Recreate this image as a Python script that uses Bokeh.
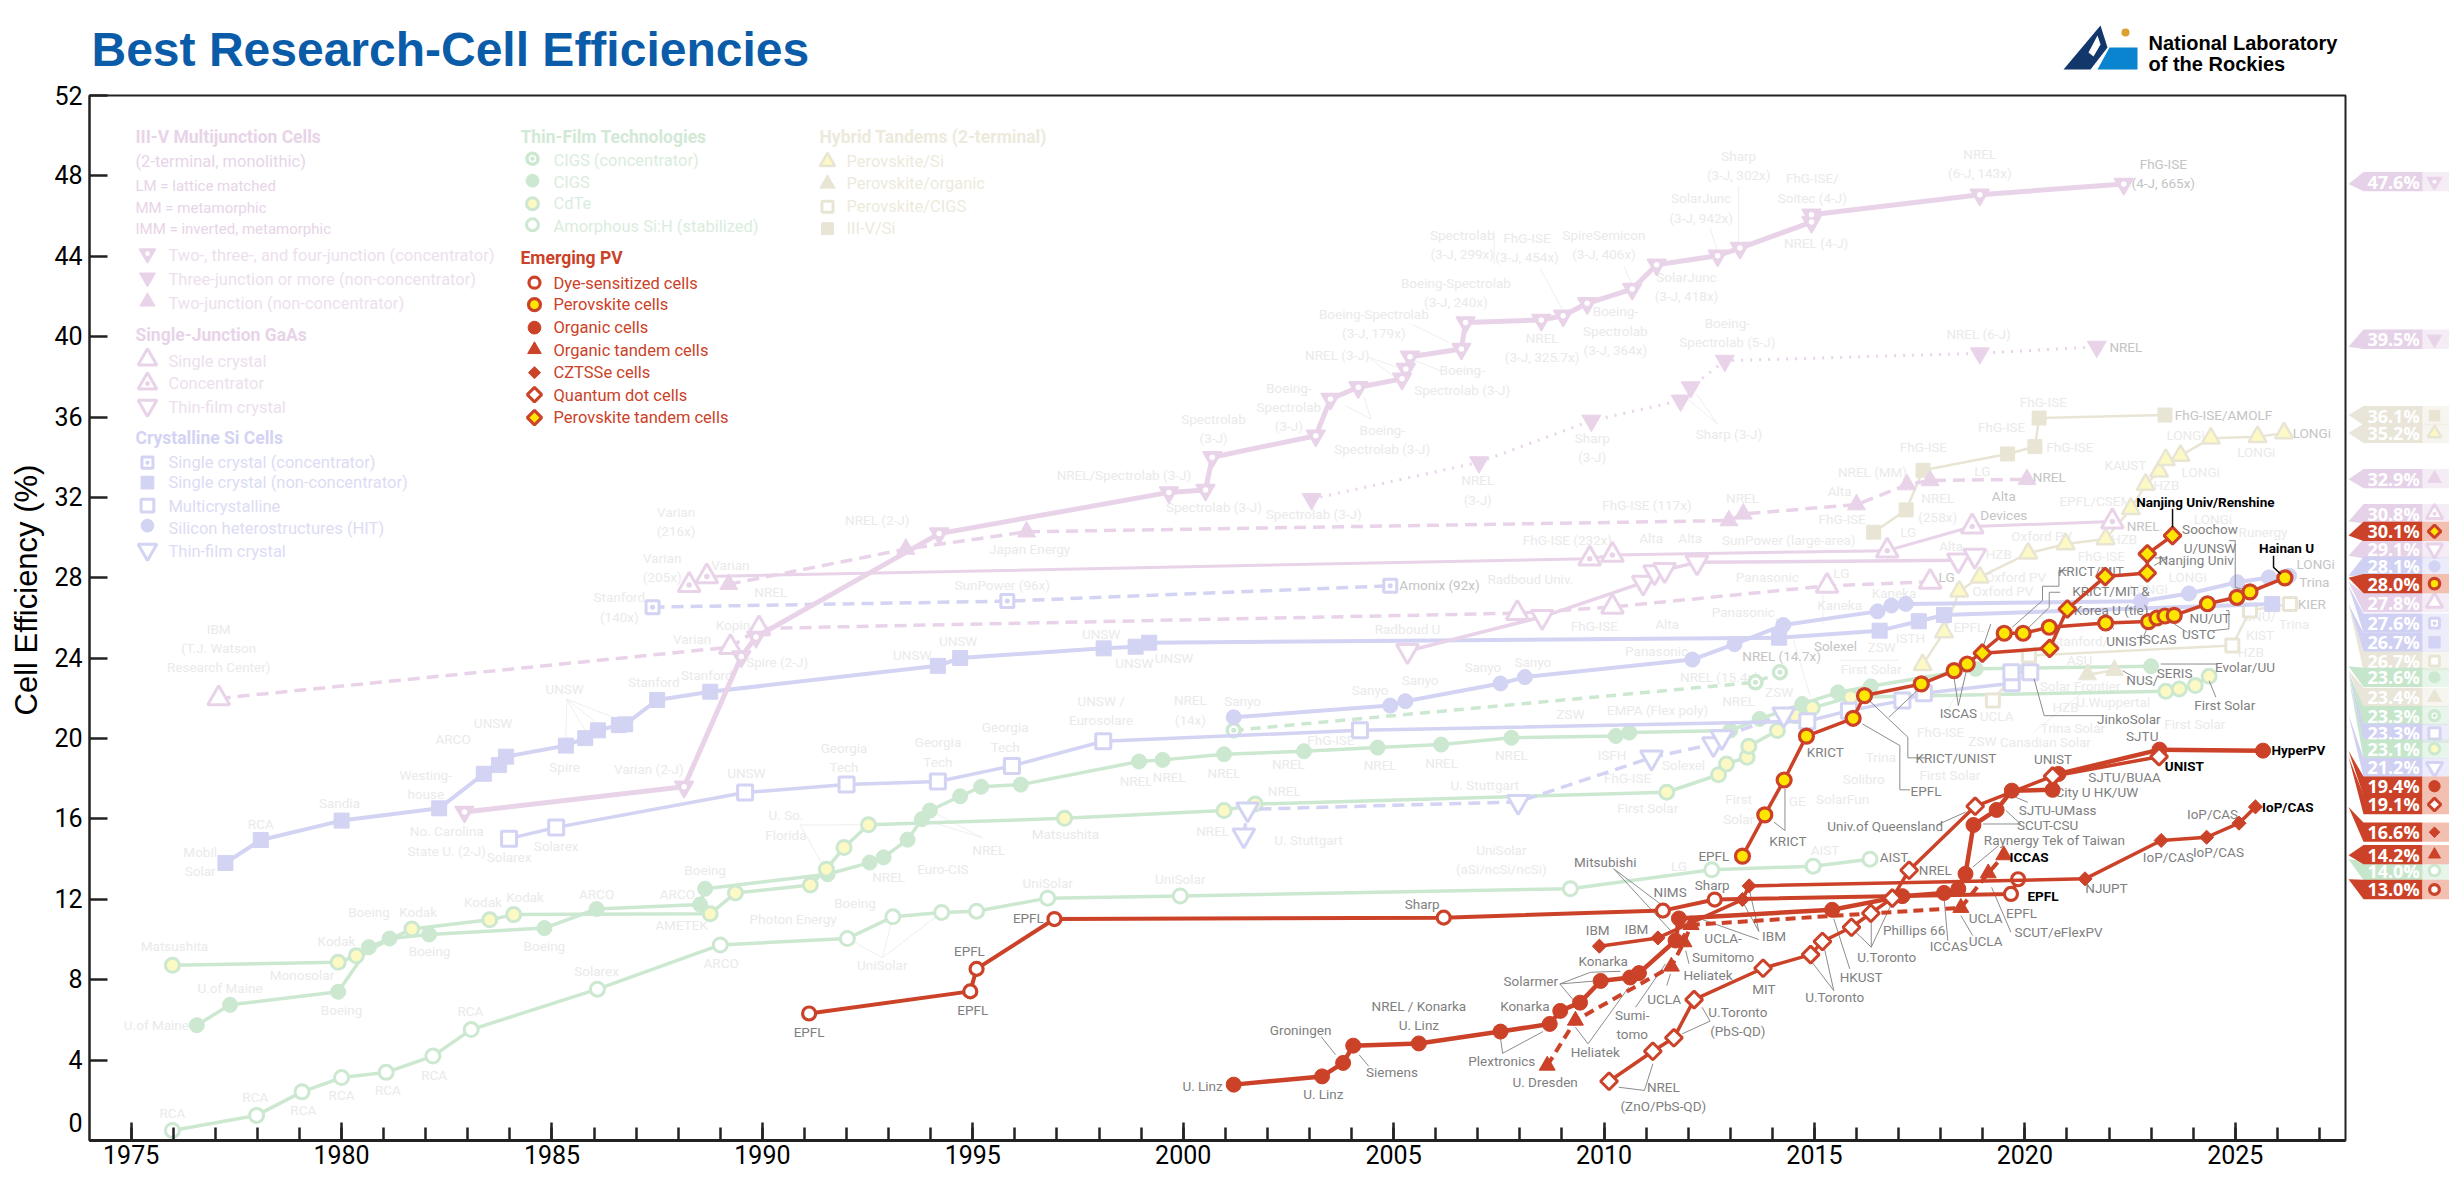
from bokeh.plotting import figure
from bokeh.models import Range1d, SingleIntervalTicker, FixedTicker, Title
from bokeh.layouts import column, row
from bokeh.core.properties import value
from bokeh.embed import file_html
from bokeh.resources import INLINE
import math

NARROW = "Roboto"
ARIAL = "Liberation Sans"

# ---------- series (year, efficiency %) ----------
mj_conc_x = [1982.92,1988.14,1989.5,1989.85,1994.2,1999.66,2000.53,2000.69,2003.15,2003.5,2004.16,2005.2,2005.29,2005.39,2006.61,2006.71,2008.51,2009.03,2009.6,2010.67,2011.25,2012.7,2013.23,2014.93,2014.93,2018.93,2022.35]
mj_conc_y = [16.35,17.6,24.08,25.05,30.2,32.25,32.37,34.0,35.07,36.9,37.48,37.9,38.39,39.0,39.39,40.71,40.83,41.04,41.66,42.37,43.58,44.03,44.41,45.7,46.07,47.06,47.6]
mj_non_x = [2003.05,2007.03,2009.7,2011.82,2012.06,2012.87,2018.93,2021.71]
mj_non_y = [31.92,33.75,35.82,36.82,37.48,38.8,39.17,39.5]
two_j_x = [1989.2,1993.41,1996.28,2012.97,2013.31,2016.0,2017.2,2017.75,2020.05]
two_j_y = [27.68,29.43,30.29,30.85,31.18,31.64,32.64,32.84,32.9]
gaas_sc_x = [1977.08,1989.24,1989.92,2007.94,2010.2,2015.3,2017.75]
gaas_sc_y = [22.0,24.55,25.48,26.24,26.55,27.6,27.8]
gaas_conc_x = [1988.26,1988.68,2009.66,2010.2,2016.73,2018.75,2022.08]
gaas_conc_y = [27.64,28.07,28.95,29.14,29.35,30.55,30.8]
gaas_tf_x = [2005.33,2008.53,2010.93,2011.2,2011.44,2012.21,2018.42,2018.81]
gaas_tf_y = [24.36,26.06,27.76,28.28,28.39,28.77,28.87,29.1]
si_sc_x = [1977.24,1978.08,1980.0,1982.32,1983.38,1983.74,1983.91,1985.33,1985.79,1986.09,1986.59,1986.74,1987.5,1988.76,1994.17,1994.7,1998.11,1998.87,1999.19,2014.16,2016.55,2017.48,2018.08,2025.88]
si_sc_y = [13.81,14.95,15.92,16.53,18.25,18.68,19.1,19.65,20.02,20.41,20.67,20.71,21.92,22.33,23.62,24.01,24.49,24.57,24.77,25.02,25.37,25.84,26.15,26.7]
si_conc_x = [1987.39,1995.82,2004.92]
si_conc_y = [26.54,26.84,27.6]
si_mc_x = [1983.98,1985.1,1989.59,1992.0,1994.17,1995.93,1998.1,2004.2,2014.83,2015.82,2017.09,2017.6,2019.69,2019.68,2020.13]
si_mc_y = [15.02,15.58,17.32,17.71,17.86,18.64,19.87,20.41,20.86,21.39,21.89,22.25,22.75,23.3,23.3]
si_hit_x = [2001.2,2004.92,2005.28,2007.54,2008.12,2012.1,2013.1,2014.26,2016.5,2016.83,2017.17,2022.76,2023.9,2025.05,2025.8,2026.28]
si_hit_y = [21.06,21.64,21.86,22.74,23.06,23.93,24.7,25.65,26.33,26.62,26.7,26.83,27.22,27.78,28.02,28.1]
si_tf_x = [2001.44,2001.53,2007.96,2011.13,2012.6,2012.8,2014.27]
si_tf_y = [15.19,16.48,16.85,19.06,19.73,20.07,21.2]
cigs_conc_x = [2001.2,2013.6,2014.18]
cigs_conc_y = [20.41,22.8,23.3]
cigs_x = [1976.56,1977.35,1979.92,1980.65,1981.14,1982.08,1984.82,1986.06,1988.52,1988.64,1991.55,1992.55,1992.88,1993.45,1993.79,1993.98,1994.7,1995.2,1996.14,1998.95,1999.51,2000.97,2002.87,2004.62,2006.13,2007.8,2010.28,2010.6,2013.0,2013.7,2014.71,2015.56,2016.34,2018.83,2023.0]
cigs_y = [5.74,6.75,7.4,9.62,10.05,10.25,10.57,11.52,11.74,12.53,13.25,13.83,14.09,14.97,15.99,16.42,17.13,17.6,17.71,18.86,18.94,19.22,19.37,19.55,19.7,20.04,20.13,20.3,20.4,20.98,21.72,22.3,22.6,23.47,23.6]
cdte_x = [1975.98,1979.92,1980.35,1981.67,1983.52,1984.09,1988.76,1989.36,1991.14,1991.52,1991.94,1992.52,1997.18,2000.97,2001.71,2011.49,2012.72,2012.91,2013.4,2013.44,2014.12,2014.55,2014.95,2015.86,2023.35,2023.67,2024.05,2024.38]
cdte_y = [8.72,8.87,9.19,10.53,10.98,11.24,11.28,12.32,12.71,13.5,14.58,15.71,16.03,16.42,16.74,17.33,18.2,18.74,19.07,19.62,20.4,21.14,21.53,22.06,22.35,22.47,22.64,23.1]
asi_x = [1975.98,1977.98,1979.06,1980.0,1981.06,1982.17,1983.08,1986.08,1989.0,1992.02,1993.1,1994.26,1995.09,1996.78,1999.93,2009.2,2012.56,2014.97,2016.32]
asi_y = [0.5,1.25,2.42,3.13,3.39,4.2,5.52,7.53,9.73,10.05,11.13,11.35,11.41,12.06,12.17,12.53,13.47,13.65,14.0]
pk_si_x = [2017.57,2018.08,2018.44,2018.93,2020.08,2020.97,2021.92,2022.52,2022.87,2023.19,2023.35,2023.7,2024.42,2025.53,2026.16]
pk_si_y = [23.67,25.3,27.33,28.03,29.22,29.68,29.93,31.43,32.64,33.3,33.87,34.08,34.94,35.02,35.2]
pk_org_x = [2021.49,2022.13]
pk_org_y = [23.18,23.4]
pk_cigs_x = [2019.24,2020.1,2024.93,2025.35,2026.3]
pk_cigs_y = [21.89,24.13,24.63,26.37,26.7]
pk_iii_x = [2016.41,2017.18,2017.58,2019.59,2020.24,2020.34,2023.33]
pk_iii_y = [30.27,31.38,33.35,34.16,34.53,35.95,36.1]

dye_x = [1991.11,1994.94,1995.09,1996.94,2006.19,2011.4,2012.63,2019.67,2019.84]
dye_y = [6.32,7.42,8.54,11.02,11.09,11.44,11.99,12.27,13.0]
pk_x = [2013.29,2013.82,2014.28,2014.81,2015.92,2016.19,2017.54,2018.32,2018.63,2019.51,2019.96,2020.58,2021.92,2022.94,2023.14,2023.33,2023.55,2024.34,2025.04,2025.35,2026.18]
pk_y = [14.15,16.2,17.94,20.12,21.01,22.14,22.72,23.38,23.71,25.24,25.24,25.54,25.75,25.82,26.0,26.1,26.13,26.71,27.03,27.3,28.0]
pvt_x = [2018.99,2020.59,2021.01,2021.91,2022.91,2022.91,2023.51]
pvt_y = [24.25,24.49,26.45,28.06,28.24,29.19,30.1]
org_x = [2001.2,2003.3,2003.8,2004.04,2005.6,2007.54,2008.71,2008.96,2009.43,2009.92,2010.62,2010.83,2011.7,2011.78,2015.42,2017.09,2018.08,2018.42,2018.59,2018.78,2019.33,2019.69,2020.66,2020.8,2023.2,2025.66]
org_y = [2.78,3.19,3.86,4.72,4.83,5.42,5.8,6.45,6.86,7.94,8.11,8.33,9.95,11.05,11.48,12.16,12.32,12.52,13.27,15.7,16.45,17.41,17.45,18.24,19.45,19.4]
org_t_x = [2008.65,2009.32,2011.6,2011.9,2012.07,2018.48,2019.13,2019.5]
org_t_y = [3.73,5.97,8.66,9.87,10.73,11.58,13.3,14.2]
czts_x = [2009.89,2011.28,2013.29,2013.45,2021.43,2023.24,2024.32,2025.09,2025.48]
czts_y = [9.67,10.08,11.99,12.67,13.02,14.93,15.09,15.79,16.6]
qd_x = [2010.12,2011.16,2011.66,2012.14,2013.78,2014.91,2015.19,2015.88,2016.34,2016.85,2017.25,2018.82,2020.66,2023.19]
qd_y = [2.95,4.44,5.11,7.01,8.57,9.25,9.9,10.61,11.31,12.06,13.45,16.63,18.13,19.1]

# ---------- colours ----------
PINK, BLUE, GREEN, BEIGE, RED = "#E9D3E9", "#D3D3F3", "#CCE8D0", "#E9E5D5", "#CB4228"
YEL_P, YEL_R = "#FCF9C4", "#FFE600"

# marker styles: marker, size, fill, line, line width, centre dot, angle
STY = {
 "mj_conc":  ("inverted_triangle", 19, PINK, PINK, 1.5, True, 0),
 "mj_non":   ("inverted_triangle", 19, PINK, PINK, 1, False, 0),
 "two_j":    ("triangle", 18, PINK, PINK, 1, False, 0),
 "gaas_sc":  ("triangle", 22, "white", PINK, 3, False, 0),
 "gaas_conc":("triangle", 22, "white", PINK, 3, True, 0),
 "gaas_tf":  ("inverted_triangle", 22, "white", PINK, 3, False, 0),
 "si_conc":  ("square", 13, "white", BLUE, 3, True, 0),
 "si_sc":    ("square", 15, BLUE, BLUE, 1, False, 0),
 "si_mc":    ("square", 15, "white", BLUE, 3, False, 0),
 "si_hit":   ("circle", 15, BLUE, BLUE, 1, False, 0),
 "si_tf":    ("inverted_triangle", 22, "white", BLUE, 3, False, 0),
 "cigs_conc":("circle", 13, "white", GREEN, 3.5, True, 0),
 "cigs":     ("circle", 15, GREEN, GREEN, 1, False, 0),
 "cdte":     ("circle", 14, YEL_P, GREEN, 3, False, 0),
 "asi":      ("circle", 14, "white", GREEN, 3, False, 0),
 "pk_si":    ("triangle", 18, YEL_P, BEIGE, 2.5, False, 0),
 "pk_org":   ("triangle", 18, BEIGE, BEIGE, 1, False, 0),
 "pk_cigs":  ("square", 13, "white", BEIGE, 3, False, 0),
 "pk_iii":   ("square", 14, BEIGE, BEIGE, 1, False, 0),
 "dye":      ("circle", 13, "white", RED, 3.2, False, 0),
 "pk":       ("circle", 14, YEL_R, RED, 3.2, False, 0),
 "org":      ("circle", 15, RED, RED, 1, False, 0),
 "org_t":    ("triangle", 16, RED, RED, 1, False, 0),
 "czts":     ("square", 10, RED, RED, 1, False, math.pi/4),
 "qd":       ("square", 12, "white", RED, 3, False, math.pi/4),
 "pvt":      ("square", 12, YEL_R, RED, 3, False, math.pi/4),
}

# series drawing order: key, xs, ys, colour, width, dash
SERIES = [
 ("asi", asi_x, asi_y, GREEN, 3.5, "solid"),
 ("cigs_conc", cigs_conc_x, cigs_conc_y, GREEN, 3.5, "10 7"),
 ("cigs", cigs_x, cigs_y, GREEN, 3.5, "solid"),
 ("cdte", cdte_x, cdte_y, GREEN, 3.5, "solid"),
 ("pk_si", pk_si_x, pk_si_y, BEIGE, 2.5, "solid"),
 ("pk_org", pk_org_x, pk_org_y, BEIGE, 2.5, "solid"),
 ("pk_cigs", pk_cigs_x, pk_cigs_y, BEIGE, 2.5, "solid"),
 ("pk_iii", pk_iii_x, pk_iii_y, BEIGE, 2.5, "solid"),
 ("si_conc", si_conc_x, si_conc_y, BLUE, 3.5, "12 7"),
 ("si_sc", si_sc_x, si_sc_y, BLUE, 4, "solid"),
 ("si_mc", si_mc_x, si_mc_y, BLUE, 3.5, "solid"),
 ("si_hit", si_hit_x, si_hit_y, BLUE, 4, "solid"),
 ("si_tf", si_tf_x, si_tf_y, BLUE, 3.5, "12 7"),
 ("gaas_sc", gaas_sc_x, gaas_sc_y, PINK, 3.5, "12 7"),
 ("gaas_conc", gaas_conc_x, gaas_conc_y, PINK, 3, "solid"),
 ("gaas_tf", gaas_tf_x, gaas_tf_y, PINK, 3.5, "solid"),
 ("two_j", two_j_x, two_j_y, PINK, 3.5, "12 7"),
 ("mj_non", mj_non_x, mj_non_y, PINK, 3, "2 7"),
 ("mj_conc", mj_conc_x, mj_conc_y, PINK, 5, "solid"),
 ("dye", dye_x, dye_y, RED, 4, "solid"),
 ("org_t", org_t_x, org_t_y, RED, 4, "10 6"),
 ("org", org_x, org_y, RED, 4.5, "solid"),
 ("czts", czts_x, czts_y, RED, 3.5, "solid"),
 ("qd", qd_x, qd_y, RED, 3.5, "solid"),
 ("pk", pk_x, pk_y, RED, 3.5, "solid"),
 ("pvt", pvt_x, pvt_y, RED, 3.5, "solid"),
]

# ---------- annotation texts (text, year, eff) ----------
labels_pale = [
 ("IBM\n(T.J. Watson\nResearch Center)",1977.08,24.5),("Varian\n(216x)",1987.95,30.8),("Varian\n(205x)",1987.62,28.5),
 ("Varian",1989.24,28.65),("Stanford\n(140x)",1986.6,26.55),("NREL",1990.2,27.3),("Kopin",1989.3,25.65),("Varian",1988.33,24.94),
 ("Spire (2-J)",1990.35,23.82),("NREL (2-J)",1992.73,30.87),("UNSW",1993.56,24.16),("UNSW",1994.65,24.88),("Stanford",1987.42,22.83),
 ("Stanford",1988.68,23.15),("UNSW",1985.3,22.46),("UNSW",1983.6,20.8),("ARCO",1982.65,19.98),("Spire",1985.3,18.58),("Varian (2-J)",1987.3,18.47),
 ("Westing-\nhouse",1982.0,17.7),("Sandia",1979.95,16.8),("RCA",1978.08,15.77),("Mobil\nSolar",1976.64,13.9),("No. Carolina\nState U. (2-J)",1982.5,14.9),
 ("Solarex",1983.98,14.1),("Solarex",1985.1,14.65),("UNSW",1989.62,18.3),("Georgia\nTech",1991.94,19.07),("Georgia\nTech",1994.17,19.33),
 ("U. So.\nFlorida",1990.56,15.7),("Boeing",1988.64,13.44),("ARCO",1987.98,12.25),("AMETEK",1988.08,10.7),("ARCO",1986.06,12.25),("Kodak",1983.36,11.89),
 ("Kodak",1984.36,12.1),("Kodak",1981.82,11.39),("Boeing",1980.65,11.35),("Kodak",1979.88,9.95),("Boeing",1982.09,9.41),("Boeing",1984.82,9.69),
 ("Matsushita",1976.03,9.67),("Monosolar",1979.06,8.26),("U.of Maine",1977.35,7.57),("U.of Maine",1975.6,5.74),("Boeing",1980.0,6.49),("Solarex",1986.06,8.44),
 ("ARCO",1989.02,8.82),("RCA",1983.06,6.43),("RCA",1982.2,3.26),("RCA",1981.1,2.5),("RCA",1980.0,2.24),("RCA",1979.09,1.53),("RCA",1977.95,2.14),("RCA",1975.98,1.38),
 ("Photon Energy",1990.73,11.02),("Boeing",1992.2,11.82),("NREL",1993.0,13.12),("Euro-CIS",1994.29,13.5),("NREL",1995.38,14.48),("UniSolar",1992.85,8.72),
 ("Spectrolab (3-J)",2000.73,31.5),("Spectrolab (3-J)",2003.1,31.2),("Japan Energy",1996.35,29.43),("SunPower (96x)",1995.7,27.63),
 ("UNSW",1998.05,25.2),("UNSW",1998.84,23.75),("UNSW",1999.78,24.03),("Radboud U",2005.33,25.44),("Radboud Univ.",2008.25,27.96),
 ("FhG-ISE (232x)",2009.13,29.9),("FhG-ISE (117x)",2011.02,31.63),("Alta",2011.12,30.0),("Alta",2012.05,30.0),("FhG-ISE",2009.77,25.59),("Alta",2011.5,25.7),
 ("Sanyo",2001.41,21.88),("Sanyo",2004.44,22.42),("Sanyo",2005.63,22.93),("Sanyo",2007.12,23.54),("Sanyo",2008.31,23.82),("Panasonic",2011.25,24.36),
 ("NREL\n(14x)",2000.17,21.42),("UNSW /\nEurosolare",1998.05,21.38),("Georgia\nTech",1995.77,20.08),("FhG-ISE",2003.51,19.91),("NREL",2002.5,18.75),("NREL",1998.88,17.89),
 ("NREL",1999.67,18.08),("NREL",2000.97,18.3),("NREL",2004.68,18.68),("NREL",2006.14,18.79),("NREL",2007.8,19.18),("NREL",2002.4,17.39),("NREL",2000.7,15.38),
 ("U. Stuttgart",2002.98,14.97),("U. Stuttgart",2007.17,17.71),("Matsushita",1997.2,15.23),("ZSW",2009.2,21.23),("EMPA (Flex poly)",2011.27,21.42),("ISFH",2010.19,19.18),
 ("FhG-ISE",2010.56,18.04),("Solexel",2011.89,18.68),("First Solar",2011.04,16.53),("UniSolar",1996.78,12.82),("UniSolar",1999.93,13.01),("UniSolar\n(aSi/ncSi/ncSi)",2007.56,13.98),
 ("LG",2011.78,13.68),("AIST",2015.25,14.48),
 ("NREL (MM)",2016.38,33.28),("LG",2018.99,33.33),("NREL",2013.29,31.96),("Alta",2015.6,32.34),("NREL\n(258x)",2017.93,31.5),("FhG-ISE",2015.66,30.93),
 ("SunPower (large-area)",2014.39,29.88),("LG",2017.23,30.27),("Alta",2018.25,29.6),("HZB",2019.38,29.19),("Oxford PV",2020.4,30.1),("Oxford PV",2019.78,28.06),("Oxford PV",2019.48,27.36),
 ("EPFL/CSEM",2021.69,31.84),("KAUST",2022.39,33.63),("HZB",2023.36,32.6),("HZB",2022.36,29.93),("FhG-ISE",2021.82,29.1),("LONGi",2024.47,30.93),("Runergy",2025.66,30.26),
 ("LONGi",2023.87,28.03),("LONGi",2022.94,27.45),("LG",2015.64,28.22),("Kaneka",2015.6,26.67),("Kaneka",2016.89,27.23),("Panasonic",2013.88,28.06),("Panasonic",2013.31,26.29),
 ("ZSW",2016.6,24.54),("ZSW",2014.16,22.3),("NREL (15.4x)",2012.74,23.05),("NREL",2013.2,21.89),("ISTH",2017.28,25.0),("EPFL",2018.67,25.54),("First Solar",2016.35,23.47),
 ("Stanford/\nASU",2021.3,24.4),("Solar Frontier",2021.31,22.64),("HZB",2020.97,21.59),("U.Wuppertal",2022.1,21.8),("Trina Solar",2021.14,20.51),("Canadian Solar",2020.49,19.82),
 ("UCLA",2019.33,21.14),("FhG-ISE",2018.0,20.35),("ZSW",2018.99,19.87),("Trina",2016.58,19.07),("First Solar",2018.22,18.21),("Solibro",2016.17,18.0),("SolarFun",2015.67,17.0),
 ("GE",2014.59,16.88),("First\nSolar",2013.2,16.5),("First Solar",2024.04,20.73),("SNU/\nKIST",2025.59,25.62),("HZB",2025.37,24.3),("Trina",2026.4,25.7),
 ("FhG-ISE",2020.44,36.73),("FhG-ISE",2019.45,35.49),("FhG-ISE",2017.59,34.53),("FhG-ISE",2021.07,34.49),("LONGi",2023.82,35.12),("LONGi",2025.5,34.25),("LONGi",2024.18,33.25),
 ("NREL (6-J)",2018.9,40.15),("NREL (3-J)",2003.66,39.1),("Boeing-Spectrolab\n(3-J, 179x)",2004.53,40.66),("Boeing-Spectrolab\n(3-J, 240x)",2006.48,42.2),("Spectrolab\n(3-J, 299x)",2006.63,44.58),
 ("Boeing-\nSpectrolab (3-J)",2006.63,37.84),("Boeing-\nSpectrolab\n(3-J)",2002.51,36.5),("Boeing-\nSpectrolab (3-J)",2004.73,34.9),("Spectrolab\n(3-J)",2000.72,35.44),("NREL/Spectrolab (3-J)",1998.59,33.13),
 ("NREL\n(3-J)",2007.0,32.37),("FhG-ISE\n(3-J, 454x)",2008.17,44.44),("SpireSemicon\n(3-J, 406x)",2010.0,44.58),("SolarJunc\n(3-J, 942x)",2012.31,46.4),("Sharp\n(3-J, 302x)",2013.2,48.5),
 ("FhG-ISE/\nSoitec (4-J)",2014.95,47.4),("NREL (4-J)",2015.04,44.66),("NREL\n(6-J, 143x)",2018.93,48.6),("SolarJunc\n(3-J, 418x)",2011.96,42.5),
 ("NREL\n(3-J, 325.7x)",2008.53,39.47),("Boeing-\nSpectrolab\n(3-J, 364x)",2010.27,40.3),("Boeing-\nSpectrolab (5-J)",2012.93,40.2),("Sharp (3-J)",2012.97,35.16),("Sharp\n(3-J)",2009.72,34.5),
]
labels_mid = [
 ("FhG-ISE\n(4-J, 665x)",2023.29,48.1),("Amonix (92x)",2006.09,27.64),("NREL",2022.4,39.5),("FhG-ISE/AMOLF",2024.72,36.12),("LONGi",2026.82,35.19),("NREL",2020.58,33.0),
 ("Alta\nDevices",2019.5,31.6),("NREL",2022.81,30.6),("LG",2018.14,28.06),("Solexel",2015.5,24.63),("NREL (14.7x)",2014.22,24.13),("LONGi",2026.91,28.7),("Trina",2026.88,27.81),("KIER",2026.82,26.7),
]
labels_gray = [
 ("EPFL",1991.11,5.42),("EPFL",1994.92,9.45),("EPFL",1995.0,6.49),("EPFL",1996.32,11.07),("Sharp",2005.68,11.78),("Mitsubishi",2010.03,13.87),("NIMS",2011.57,12.36),
 ("IBM",2009.85,10.49),("IBM",2010.77,10.53),("Konarka",2009.98,8.91),("Solarmer",2008.26,7.96),("Konarka",2008.12,6.67),("NREL / Konarka\nU. Linz",2005.6,6.21),("Groningen",2002.79,5.52),
 ("Siemens",2004.96,3.43),("U. Linz",2000.46,2.72),("U. Linz",2003.33,2.29),("Plextronics",2007.57,3.97),("Heliatek",2009.79,4.38),("Sumi-\ntomo",2010.67,5.78),("UCLA",2011.43,7.03),
 ("U. Dresden",2008.6,2.89),("NREL\n(ZnO/PbS-QD)",2011.41,2.18),("UCLA-\nSumitomo",2012.83,9.59),("Heliatek",2012.47,8.26),("IBM",2014.04,10.2),("U.Toronto\n(PbS-QD)",2013.18,5.94),("MIT",2013.8,7.55),
 ("U.Toronto",2015.48,7.13),("HKUST",2016.11,8.13),("U.Toronto",2016.72,9.12),("Phillips 66",2017.37,10.48),("NREL",2017.87,13.48),("AIST",2016.89,14.1),("Sharp",2012.57,12.69),("EPFL",2012.61,14.18),
 ("ICCAS",2018.19,9.7),("UCLA",2019.07,9.92),("UCLA",2019.07,11.06),("EPFL",2019.92,11.31),("SCUT/eFlexPV",2020.8,10.36),("NJUPT",2021.94,12.55),("IoP/CAS",2023.41,14.1),("IoP/CAS",2024.6,14.34),
 ("IoP/CAS",2024.46,16.25),("Raynergy Tek of Taiwan",2020.71,14.93),("SCUT-CSU",2020.54,15.7),("SJTU-UMass",2020.78,16.47),("City U HK/UW",2021.71,17.36),("SJTU/BUAA",2022.37,18.08),("UNIST",2020.67,18.99),
 ("SJTU",2022.79,20.12),("Univ.of Queensland",2016.68,15.67),("KRICT",2014.37,14.89),("KRICT",2015.26,19.35),("EPFL",2017.65,17.38),("KRICT/UNIST",2018.36,19.04),("ISCAS",2018.42,21.26),
 ("NU/UT",2024.4,25.99),("UNIST",2022.39,24.84),("ISCAS",2023.16,24.96),("USTC",2024.13,25.2),("KRICT/MIT",2021.57,28.32),("KRICT/MIT &\nKorea U (tie)",2022.05,26.87),("Nanjing Univ",2024.07,28.9),
 ("Soochow\nU/UNSW",2024.4,29.97),("JinkoSolar",2022.47,20.98),("First Solar",2024.75,21.69),("Evolar/UU",2025.23,23.55),("NUS/",2022.79,22.89),("SERIS",2023.56,23.25),
]
labels_black = [
 ("EPFL",2020.43,12.19),("IoP/CAS",2026.25,16.58),("ICCAS",2020.1,14.1),("UNIST",2023.79,18.66),("HyperPV",2026.5,19.44),("Nanjing Univ/Renshine",2024.29,31.76),("Hainan U",2026.22,29.47),
]

# leader lines, as (year, eff) paths
leaders_gray = [
 [(2010.23,13.52),(2011.34,11.77)],[(2010.23,13.52),(2011.58,10.45)],[(2013.68,10.4),(2013.44,12.6)],[(2013.68,10.4),(2013.29,11.9)],[(2013.68,10.0),(2012.22,11.08)],
 [(2008.95,7.79),(2009.68,8.37),(2010.39,8.42)],[(2008.95,7.79),(2009.92,7.96)],[(2008.95,7.79),(2009.28,6.97)],[(2009.62,4.81),(2010.59,7.63)],[(2009.62,4.81),(2009.32,5.64)],
 [(2010.75,6.63),(2011.46,8.79)],[(2011.49,7.71),(2011.58,8.29)],[(2012.33,6.63),(2012.52,5.94),(2011.86,5.31)],[(2014.91,8.96),(2015.46,7.46),(2015.23,9.62)],[(2015.84,8.54),(2015.46,11.03)],
 [(2015.9,10.53),(2016.35,9.62),(2016.35,11.11)],[(2016.35,9.62),(2016.85,11.86)],[(2010.35,2.65),(2010.96,2.49),(2011.16,3.81)],[(2012.02,8.79),(2011.94,9.45)],
 [(2007.54,5.09),(2007.59,4.34),(2008.55,5.42)],[(2003.28,5.16),(2003.62,4.27)],[(2004.41,3.69),(2004.18,4.27)],[(2014.3,17.5),(2014.3,15.42),(2014.04,15.84)],
 [(2017.64,19.04),(2017.22,19.04),(2017.22,20.07),(2016.26,21.97)],[(2017.27,17.45),(2017.03,17.45),(2017.03,19.65),(2016.14,20.73)],[(2016.77,21.06),(2017.48,22.47)],
 [(2017.91,15.7),(2018.59,16.34)],[(2019.01,15.75),(2019.9,15.75),(2019.55,16.42)],[(2019.78,17.08),(2020.07,16.83)],[(2018.31,23.13),(2018.42,21.64),(2018.62,23.47)],
 [(2019.38,14.68),(2018.76,13.6)],[(2019.67,10.36),(2019.21,12.6)],[(2018.76,10.2),(2018.48,11.19)],[(2018.17,9.95),(2018.08,12.1)],
 [(2021.0,28.36),(2020.81,28.36),(2020.81,27.58),(2020.42,27.58),(2020.42,26.87),(2019.7,25.54)],[(2020.84,27.28),(2020.58,27.28),(2020.58,26.53),(2020.1,25.54)],[(2019.19,25.7),(2018.99,24.46)],
 [(2024.78,26.37),(2024.85,26.37),(2024.85,25.46),(2024.46,25.37)],[(2023.86,25.29),(2023.55,25.7)],[(2024.85,29.85),(2025.0,29.85),(2025.0,27.53),(2025.35,27.33)],
 [(2023.09,28.99),(2023.39,28.99),(2023.07,28.61)],[(2022.12,25.46),(2022.0,25.7)],[(2022.83,25.12),(2022.95,25.7)],[(2024.58,23.71),(2023.23,23.71)],[(2024.54,22.06),(2024.38,22.88)],
 [(2021.88,21.14),(2020.46,21.14),(2020.22,22.97)],[(2022.6,23.05),(2022.32,23.38)],
]
leaders_black = [
 [(2023.51,31.43),(2023.51,30.51)],[(2025.91,29.1),(2025.91,28.52),(2026.08,28.19)],
]
leaders_pale = [
 [(2013.2,47.5),(2013.2,44.6)],[(2005.45,40.6),(2006.32,39.7)],[(2004.42,38.97),(2005.09,38.47)],[(2004.42,38.97),(2004.97,38.06)],[(2005.52,38.8),(2006.12,38.3)],
 [(2003.85,36.57),(2004.46,35.9),(2004.3,37.0)],[(2007.39,45.27),(2007.39,43.6)],[(2008.49,43.37),(2009.0,41.38)],[(2010.47,43.5),(2010.67,42.6)],[(2012.52,45.4),(2012.69,44.3)],
 [(2012.2,37.15),(2012.69,35.66),(2011.94,36.98)],[(1985.33,19.98),(1985.35,21.96),(1985.79,20.41)],[(1986.09,20.73),(1985.35,21.96),(1986.59,20.95)],[(1993.98,16.42),(1995.23,15.06),(1993.79,15.99)],
 [(1990.9,15.7),(1991.55,13.25)],[(1990.9,15.7),(1992.5,15.71)],[(1992.85,9.1),(1993.1,11.13)],[(1992.85,9.1),(1994.26,11.35)],[(1992.85,9.1),(1992.02,10.05)],
 [(2014.1,26.0),(2014.1,25.6)],[(2015.2,27.9),(2015.2,25.7)],[(2014.5,24.9),(2014.9,22.1)],[(2015.6,23.9),(2017.0,23.9)],[(2018.05,21.0),(2018.6,23.0)],[(2020.2,20.3),(2021.5,22.5)],
]

# ---------- flags on the right ----------
flag_vals = [47.6,39.5,36.1,35.2,32.9,30.8,30.1,29.1,28.1,28.0,27.8,27.6,26.7,26.7,23.6,23.4,23.3,23.3,23.1,21.2,19.4,19.1,16.6,14.2,14.0,13.0]
flag_keys = ["mj_conc","mj_non","pk_iii","pk_si","two_j","gaas_conc","pvt","gaas_tf","si_hit","pk","gaas_sc","si_conc","si_sc","pk_cigs","cigs","pk_org","cigs_conc","si_mc","cdte","si_tf","org","qd","czts","org_t","asi","dye"]
flag_slot = [47.71,39.87,36.07,35.19,32.94,31.19,30.31,29.45,28.57,27.71,26.77,25.74,24.79,23.85,23.05,22.05,21.14,20.26,19.49,18.57,17.63,16.72,15.34,14.23,13.43,12.49]
flag_face = {"mj_conc":"#E6D2E8","mj_non":"#E6D2E8","two_j":"#E6D2E8","gaas_conc":"#E6D2E8","gaas_tf":"#E6D2E8","gaas_sc":"#E6D2E8",
             "si_hit":"#D0D0F3","si_conc":"#D0D0F3","si_sc":"#D0D0F3","si_mc":"#D0D0F3","si_tf":"#D0D0F3",
             "pk_iii":"#E9E5D8","pk_si":"#E9E5D8","pk_cigs":"#E9E5D8","pk_org":"#E9E5D8",
             "cigs":"#C6E6CB","cigs_conc":"#C6E6CB","cdte":"#C6E6CB","asi":"#C6E6CB"}

# ---------- legend ----------
leg_text = [
 ("III-V Multijunction Cells",135,136,"h","#E8D4E8"),("(2-terminal, monolithic)",135,161,"t","#E8D4E8"),("LM = lattice matched",135,185,"s","#E8D4E8"),
 ("MM = metamorphic",135,207,"s","#E8D4E8"),("IMM = inverted, metamorphic",135,228,"s","#E8D4E8"),
 ("Two-, three-, and four-junction (concentrator)",168,255,"t","#EDE0ED"),("Three-junction or more (non-concentrator)",168,279,"t","#EDE0ED"),("Two-junction (non-concentrator)",168,303,"t","#EDE0ED"),
 ("Single-Junction GaAs",135,334,"h","#E8D4E8"),("Single crystal",168,361,"t","#EDE0ED"),("Concentrator",168,383,"t","#EDE0ED"),("Thin-film crystal",168,407,"t","#EDE0ED"),
 ("Crystalline Si Cells",135,437,"h","#D3D3F3"),("Single crystal (concentrator)",168,462,"t","#DCDCF5"),("Single crystal (non-concentrator)",168,482,"t","#DCDCF5"),("Multicrystalline",168,506,"t","#DCDCF5"),
 ("Silicon heterostructures (HIT)",168,528,"t","#DCDCF5"),("Thin-film crystal",168,551,"t","#DCDCF5"),
 ("Thin-Film Technologies",520,136,"h","#D2E9D6"),("CIGS (concentrator)",553,160,"t","#DAEDDD"),("CIGS",553,182,"t","#DAEDDD"),("CdTe",553,203,"t","#DAEDDD"),("Amorphous Si:H (stabilized)",553,226,"t","#DAEDDD"),
 ("Emerging PV",520,257,"h",RED),("Dye-sensitized cells",553,283,"t",RED),("Perovskite cells",553,304,"t",RED),("Organic cells",553,327,"t",RED),("Organic tandem cells",553,350,"t",RED),
 ("CZTSSe cells",553,372,"t",RED),("Quantum dot cells",553,395,"t",RED),("Perovskite tandem cells",553,417,"t",RED),
 ("Hybrid Tandems (2-terminal)",819,136,"h","#EDEADC"),("Perovskite/Si",846,161,"t","#EDEADC"),("Perovskite/organic",846,183,"t","#EDEADC"),("Perovskite/CIGS",846,206,"t","#EDEADC"),("III-V/Si",846,228,"t","#EDEADC"),
]
leg_marks = [("mj_conc",147,253),("mj_non",147,277),("two_j",147,301),("gaas_sc",147,359),("gaas_conc",147,383),("gaas_tf",147,405),
 ("si_conc",147,462),("si_sc",147,482),("si_mc",147,505),("si_hit",147,525),("si_tf",147,549),
 ("cigs_conc",532,158),("cigs",532,180),("cdte",532,203),("asi",532,224),("dye",534,282),("pk",534,304),("org",534,327),("org_t",534,349),("czts",534,372),("qd",534,394),("pvt",534,417),
 ("pk_si",827,161),("pk_org",827,183),("pk_cigs",827,206),("pk_iii",827,228)]

Y_TICKS = [0,4,8,12,16,20,24,28,32,36,40,44,48,52]

# ---------- geometry ----------
def yr(px): return 1975 + (px - 130.7) / 42.08
def ef(py): return (1140 - py) / 20.1

x_rng = Range1d(1974.01, 2027.62)
y_rng = Range1d(0, 52)

def draw_marker(fig, x, y, key, scale=1.0):
    m, s, fc, lc, lw, dot, ang = STY[key]
    fig.scatter(x, y, marker=m, size=s*scale, fill_color=fc, line_color=lc, line_width=lw, angle=ang)
    if dot:
        fig.scatter(x, y, marker="circle", size=(5.5 if s > 14 else 5)*scale, fill_color="white" if key != "gaas_conc" and key != "si_conc" and key != "cigs_conc" else lc,
                    line_color=None)

p = figure(frame_width=2256, frame_height=1045, x_range=x_rng, y_range=y_rng, output_backend="svg", toolbar_location=None,
           min_border_left=89, min_border_right=2, min_border_top=14, min_border_bottom=32, background_fill_color="white",
           border_fill_color=None)
p.grid.visible = False
p.outline_line_color = "#222222"
p.outline_line_width = 2
ax = p.xaxis[0]
ax.ticker = SingleIntervalTicker(interval=5, num_minor_ticks=5)
ax.major_tick_in, ax.major_tick_out, ax.minor_tick_in, ax.minor_tick_out = 18, 0, 13, 0
ax.major_tick_line_width = 2.5; ax.minor_tick_line_width = 2.5
ax.major_tick_line_color = "#222222"; ax.minor_tick_line_color = "#222222"
ax.axis_line_width = 3; ax.axis_line_color = "#222222"
ax.major_label_text_font = NARROW; ax.major_label_text_font_size = "25px"; ax.major_label_text_color = "black"
ax.major_label_standoff = 4
ay = p.yaxis[0]
ay.ticker = FixedTicker(ticks=Y_TICKS)
ay.major_tick_in, ay.major_tick_out, ay.minor_tick_in, ay.minor_tick_out = 18, 0, 0, 0
ay.major_tick_line_width = 2.5; ay.major_tick_line_color = "#222222"
ay.axis_line_width = 2; ay.axis_line_color = "#222222"
ay.major_label_text_font = NARROW; ay.major_label_text_font_size = "25px"; ay.major_label_text_color = "black"
ay.major_label_standoff = 7
ay.major_label_overrides = {0: "0\n "}
p.add_layout(Title(text="Cell Efficiency (%)", align="left", offset=425, vertical_align="top", text_font=ARIAL, text_font_size="31px",
                   text_font_style="normal", text_color="black", standoff=12), "left")

def leader(paths, color, width):
    p.multi_line([[q[0] for q in l] for l in paths], [[q[1] for q in l] for l in paths], line_color=color, line_width=width)

def texts(rows, color, size="13.5px", style="normal"):
    p.text([r[1] for r in rows], [r[2] for r in rows], text=[r[0] for r in rows], text_font=value(NARROW), text_font_size=size,
           text_color=color, text_align="center", text_baseline="middle", text_font_style=style, text_line_height=1.2)

# pale annotation layer
leader(leaders_pale, "#EFEFEF", 1)
texts(labels_pale, "#EAEAEA")
texts(labels_mid, "#C4C4C4")

# legend
for t, lx, ly, kind, col in leg_text:
    size = {"h": "17.5px", "t": "16.5px", "s": "15px"}[kind]
    p.text([yr(lx)], [ef(ly)], text=[t], text_font=value(NARROW), text_font_size=size, text_color=col, text_align="left",
           text_baseline="middle", text_font_style="bold" if kind == "h" else "normal")
for key, lx, ly in leg_marks:
    draw_marker(p, [yr(lx)], [ef(ly)], key, 0.85)

# pale series first, then emerging PV
for key, xs, ys, col, w, dash in SERIES:
    if col != RED:
        p.line(xs, ys, line_color=col, line_width=w, line_dash=dash)
        draw_marker(p, xs, ys, key)
leader(leaders_gray, "#8C8C8C", 1)
texts(labels_gray, "#7F7F7F")
for key, xs, ys, col, w, dash in SERIES:
    if col == RED:
        p.line(xs, ys, line_color=col, line_width=w, line_dash=dash)
        draw_marker(p, xs, ys, key)
leader(leaders_black, "#111111", 1.5)
texts(labels_black, "black", style="bold")

# ---------- right-hand flags ----------
side = figure(frame_width=102, frame_height=1045, x_range=Range1d(2, 104), y_range=y_rng, output_backend="svg", toolbar_location=None,
              min_border_left=0, min_border_right=0, min_border_top=14, min_border_bottom=32, x_axis_location=None, y_axis_location=None,
              border_fill_color=None, background_fill_color=None)
side.outline_line_color = None
side.grid.visible = False
HALF = 0.48
for red_pass in (False, True):
    for val, key, slot in zip(flag_vals, flag_keys, flag_slot):
        is_red = key not in flag_face
        if is_red != red_pass:
            continue
        col = RED if is_red else flag_face[key]
        side.patch([3, 18, 77, 77, 18], [val, slot+HALF, slot+HALF, slot-HALF, slot-HALF], fill_color=col, line_color=None)
        side.patch([77, 104, 104, 77], [slot+HALF, slot+HALF, slot-HALF, slot-HALF], fill_color="#F3BFB1" if is_red else col,
                   fill_alpha=1 if is_red else 0.4, line_color=None)
        side.text([48], [slot], text=[f"{val:.1f}%"], text_font=value("Open Sans"), text_font_size="18px", text_font_style="bold",
                  text_color="white", text_align="center", text_baseline="middle")
        draw_marker(side, [89], [slot], key, 0.75)

# ---------- header ----------
top = figure(width=2449, height=81, x_range=Range1d(0, 2449), y_range=Range1d(81, 0), output_backend="svg", toolbar_location=None,
             min_border=0, x_axis_location=None, y_axis_location=None, border_fill_color=None)
top.outline_line_color = None
top.grid.visible = False
top.text([91], [49], text=["Best Research-Cell Efficiencies"], text_font=value(ARIAL), text_font_size="48px", text_font_style="bold",
         text_color="#0B5CA8", text_align="left", text_baseline="middle")
top.patch([2063, 2100, 2107, 2090], [69, 25, 47, 69], fill_color="#12386B", line_color=None)
top.patch([2088, 2097, 2100, 2093], [52, 35, 44, 56], fill_color="white", line_color=None)
top.patch([2097, 2109, 2137, 2137], [69, 47, 47, 69], fill_color="#0A84CF", line_color=None)
top.scatter([2125], [32], marker="circle", size=8, fill_color="#DBA030", line_color=None)
top.text([2148, 2148], [42, 63], text=["National Laboratory", "of the Rockies"], text_font=value(ARIAL), text_font_size="20px",
         text_font_style="bold", text_color="black", text_align="left", text_baseline="middle")

layout = column(top, row(p, side, spacing=0), spacing=0)
open("out.html", "w").write(file_html(layout, INLINE))
